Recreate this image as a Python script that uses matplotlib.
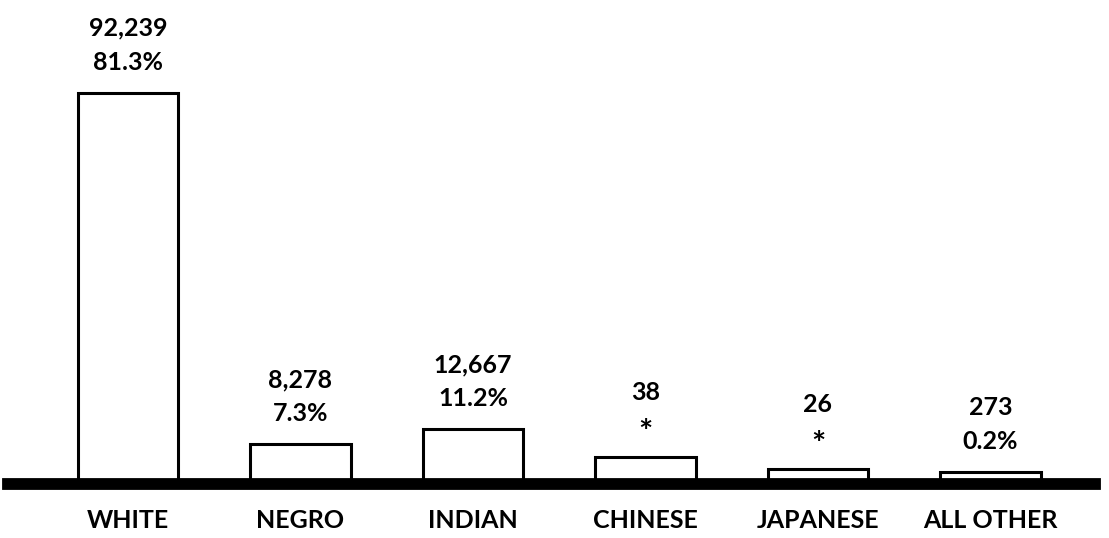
import numpy as np
import matplotlib.pyplot as plt

# categories and values
categories = ["WHITE", "NEGRO", "INDIAN", "CHINESE", "JAPANESE", "ALL OTHER"]
counts = ["92,239", "8,278", "12,667", "38", "26", "273"]
percents = ["81.3%", "7.3%", "11.2%", "*", "*", "0.2%"]
# drawn bar heights (percent units; small groups are drawn with a minimum height)
heights = [81.3, 8.3, 11.4, 5.6, 3.1, 2.5]

plt.rcParams['font.family'] = ['Lato', 'DejaVu Sans']

fig = plt.figure(figsize=(11.09, 5.38), dpi=100)
ax = fig.add_axes([0, 0, 1, 1])

x = np.arange(len(categories))
bars = ax.bar(x, heights, width=0.58, facecolor='white', edgecolor='black',
              linewidth=2.2, zorder=2)

# thick base line
ax.axhline(0, xmin=0.007, xmax=0.987, color='black', linewidth=8.5, zorder=3)

for b, cat, c, p in zip(bars, categories, counts, percents):
    cx = b.get_x() + b.get_width() / 2
    top = b.get_height()
    if p == "*":
        # asterisk sits a bit lower and larger in the original
        ax.annotate(p, (cx, top), xytext=(0, 17), textcoords='offset points',
                    ha='center', va='center', fontsize=24, fontweight='bold')
    else:
        ax.annotate(p, (cx, top), xytext=(0, 22), textcoords='offset points',
                    ha='center', va='center', fontsize=18, fontweight='bold')
    ax.annotate(c, (cx, top), xytext=(0, 46.5), textcoords='offset points',
                ha='center', va='center', fontsize=18, fontweight='bold')
    ax.annotate(cat, (cx, 0), xytext=(0, -26), textcoords='offset points',
                ha='center', va='center', fontsize=18, fontweight='bold')

ax.set_xlim(-0.742, 5.687)
ax.set_ylim(-11.2, 100.6)
ax.axis('off')

fig.savefig("out.png", dpi=100)
